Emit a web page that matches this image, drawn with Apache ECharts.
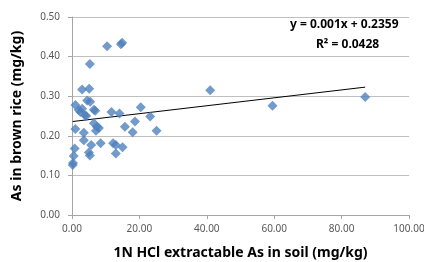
<!DOCTYPE html>
<html>
<head>
<meta charset="utf-8">
<script src="https://cdn.jsdelivr.net/npm/echarts@6/dist/echarts.min.js"></script>
<style>
html,body{margin:0;padding:0;background:#fff;}
#chart{width:424px;height:262px;}
</style>
</head>
<body>
<div id="chart"></div>
<script>
// soil As (x) vs brown rice As (y)
var soilAs = [0.2, 0.3, 0.5, 0.8, 1.0, 1.0, 2.0, 2.5, 3.0, 3.0, 3.5, 3.5, 3.9, 4.2, 4.5, 5.1, 5.3, 5.4, 5.0, 5.3,
    5.7, 6.5, 6.9, 6.5, 7.4, 8.0, 7.1, 8.5, 10.4, 14.5, 14.9, 11.7, 14.1, 12.2, 13.0, 15.0, 13.0, 15.7,
    18.0, 18.7, 20.4, 23.2, 25.1, 41.0, 59.5, 87.0];
var riceAs = [0.126, 0.131, 0.149, 0.168, 0.217, 0.278, 0.265, 0.260, 0.268, 0.317, 0.208, 0.189, 0.252, 0.250, 0.289, 0.319, 0.381, 0.286, 0.158, 0.150,
    0.177, 0.266, 0.263, 0.232, 0.223, 0.220, 0.213, 0.181, 0.426, 0.431, 0.435, 0.260, 0.256, 0.181, 0.177, 0.171, 0.155, 0.223,
    0.209, 0.236, 0.272, 0.249, 0.213, 0.315, 0.276, 0.298];
var xTicks = [0, 20, 40, 60, 80, 100];
var yTicks = [0, 0.1, 0.2, 0.3, 0.4, 0.5];
var slope = 0.001, intercept = 0.2359;
var trendX = [0.2, 87.0];

var points = soilAs.map(function (x, i) { return [x, riceAs[i]]; });
var trend = trendX.map(function (x) { return [x, slope * x + intercept]; });

var myChart = echarts.init(document.getElementById('chart'));
var option = {
    animation: false,
    textStyle: { fontFamily: '"Noto Sans", "DejaVu Sans", sans-serif' },
    grid: { left: 72, right: 15, top: 17, bottom: 47, outerBoundsMode: 'none' },
    xAxis: {
        type: 'value',
        min: xTicks[0], max: xTicks[xTicks.length - 1], interval: 20,
        name: '1N HCl extractable As in soil (mg/kg)',
        nameLocation: 'middle', nameGap: 31,
        nameTextStyle: { fontSize: 14, fontWeight: 'bold', color: '#000' },
        axisLine: { lineStyle: { color: '#a6a6a6' } },
        axisTick: { show: true, length: 4, lineStyle: { color: '#a6a6a6' } },
        axisLabel: { color: '#595959', fontSize: 10, margin: 9, formatter: function (v) { return v.toFixed(2); } },
        splitLine: { show: false }
    },
    yAxis: {
        type: 'value',
        min: yTicks[0], max: yTicks[yTicks.length - 1], interval: 0.1,
        name: 'As in brown rice (mg/kg)',
        nameLocation: 'middle', nameGap: 48, nameRotate: 90,
        nameTextStyle: { fontSize: 14, fontWeight: 'bold', color: '#000' },
        axisLine: { show: true, lineStyle: { color: '#a6a6a6' } },
        axisTick: { show: true, length: 4, lineStyle: { color: '#a6a6a6' } },
        axisLabel: { color: '#595959', fontSize: 10, margin: 12, formatter: function (v) { return v.toFixed(2); } },
        splitLine: { lineStyle: { color: '#bfbfbf' } }
    },
    graphic: [
        { type: 'text', left: 290, top: 19, style: { text: 'y = 0.001x + 0.2359', fontSize: 12, fontWeight: 'bold', fill: '#000', fontFamily: '"Noto Sans", sans-serif' } },
        { type: 'text', left: 316, top: 39, style: { text: 'R² = 0.0428', fontSize: 12, fontWeight: 'bold', fill: '#000', fontFamily: '"Noto Sans", sans-serif' } }
    ],
    series: [
        {
            type: 'line',
            data: trend,
            symbol: 'none',
            lineStyle: { color: '#000', width: 1 },
            z: 1
        },
        {
            type: 'scatter',
            data: points,
            symbol: 'diamond',
            symbolSize: 10,
            itemStyle: { color: '#4f81bd' },
            z: 2
        }
    ]
};
if (option && typeof option === "object") {
    myChart.setOption(option, true);
}
</script>
</body>
</html>
